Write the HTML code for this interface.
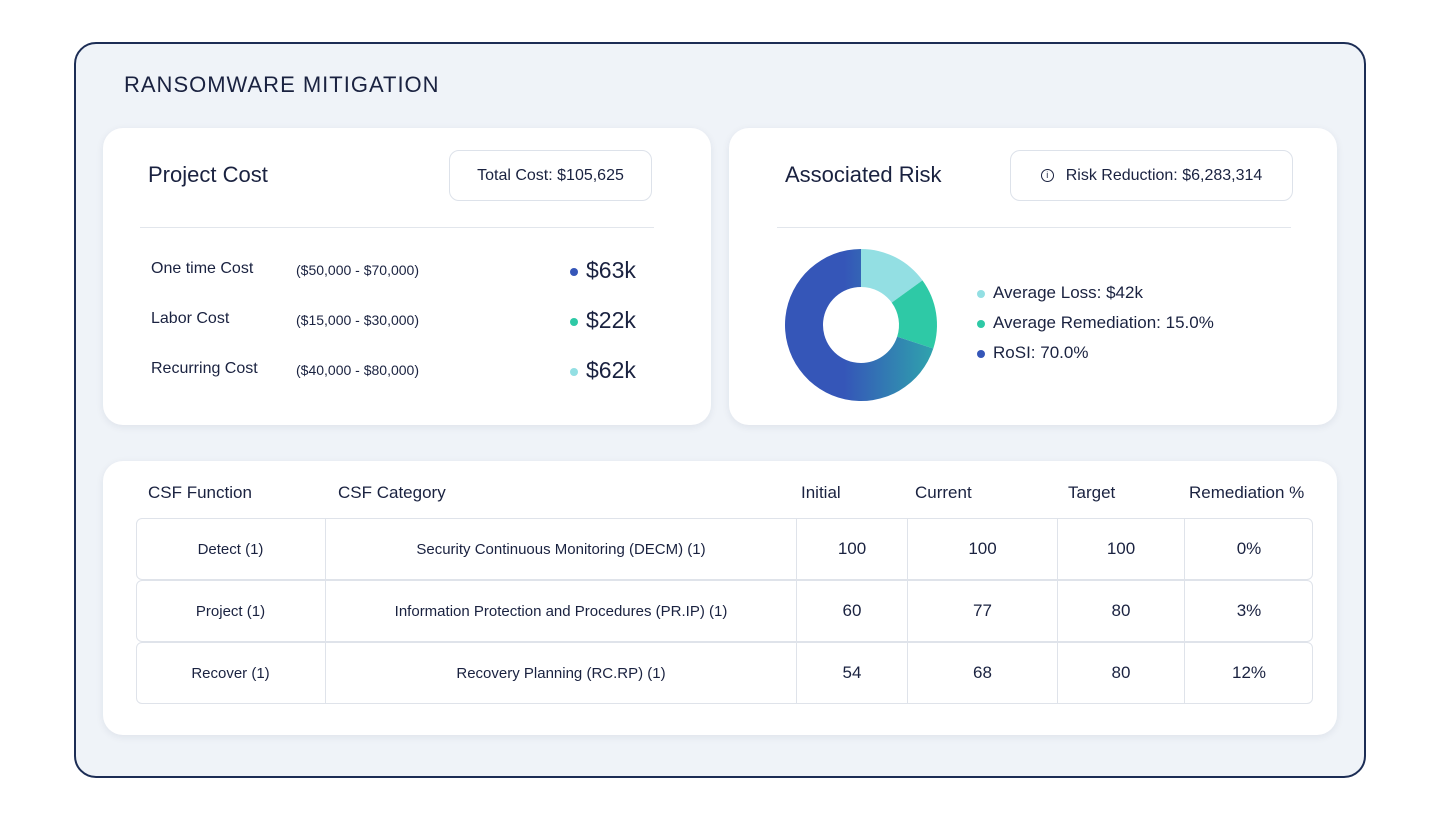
<!DOCTYPE html>
<html><head><meta charset="utf-8"><style>
*{box-sizing:border-box;margin:0;padding:0}
body{width:1440px;height:820px;background:#fff;font-family:"Liberation Sans",sans-serif;color:#1a2240;position:relative;overflow:hidden}
.abs{position:absolute}
.frame{left:74px;top:42px;width:1292px;height:736px;border:2px solid #1c2d55;border-radius:22px;background:#eff3f8}
.card{background:#fff;border-radius:20px;box-shadow:0 2px 8px rgba(30,40,80,.08)}
.pill{border:1px solid #dde2ea;border-radius:10px;background:#fff;font-size:16px;display:flex;align-items:center;justify-content:center}
.t{position:absolute;white-space:nowrap}
.dot{display:inline-block;width:8px;height:8px;border-radius:50%;margin-right:8px;vertical-align:middle}
.cell{position:absolute;display:flex;align-items:center;justify-content:center;font-size:15px;border-right:1px solid #dfe3ea}
.row{position:absolute;left:136px;width:1177px;height:62px;border:1px solid #dfe3ea;border-radius:6px;background:#fff}
</style></head><body>
<div class="abs frame"></div>
<div class="t" style="left:124px;top:72px;font-size:22px;letter-spacing:1px;font-weight:500">RANSOMWARE MITIGATION</div>

<div class="abs card" style="left:103px;top:128px;width:608px;height:297px"></div>
<div class="t" style="left:148px;top:162px;font-size:22px">Project Cost</div>
<div class="abs pill" style="left:449px;top:150px;width:203px;height:51px">Total Cost: $105,625</div>
<div class="abs" style="left:140px;top:227px;width:514px;height:1px;background:#e2e6ec"></div>
<div class="t" style="left:151px;top:260px;font-size:16px">One time Cost</div>
<div class="t" style="left:296px;top:262px;font-size:14px">($50,000 - $70,000)</div>
<div class="t" style="left:570px;top:257px;font-size:23px"><span class="dot" style="background:#3556b8"></span>$63k</div>
<div class="t" style="left:151px;top:310px;font-size:16px">Labor Cost</div>
<div class="t" style="left:296px;top:312px;font-size:14px">($15,000 - $30,000)</div>
<div class="t" style="left:570px;top:307px;font-size:23px"><span class="dot" style="background:#2ec9a6"></span>$22k</div>
<div class="t" style="left:151px;top:360px;font-size:16px">Recurring Cost</div>
<div class="t" style="left:296px;top:362px;font-size:14px">($40,000 - $80,000)</div>
<div class="t" style="left:570px;top:357px;font-size:23px"><span class="dot" style="background:#93dfe3"></span>$62k</div>

<div class="abs card" style="left:729px;top:128px;width:608px;height:297px"></div>
<div class="t" style="left:785px;top:162px;font-size:22px">Associated Risk</div>
<div class="abs pill" style="left:1010px;top:150px;width:283px;height:51px"><span style="display:inline-block;width:13px;height:13px;border:1.3px solid #1a2240;border-radius:50%;font-size:9px;line-height:11px;text-align:center;margin-right:12px">i</span>Risk Reduction: $6,283,314</div>
<div class="abs" style="left:777px;top:227px;width:514px;height:1px;background:#e2e6ec"></div>
<svg class="abs" style="left:0;top:0" width="1440" height="820" id="donut">
<defs><linearGradient id="g" x1="0" y1="0" x2="1" y2="0"><stop offset="0.4" stop-color="#3556b8"/><stop offset="1" stop-color="#2fa3ad"/></linearGradient></defs>
</svg>
<div class="t" style="left:977px;top:283px;font-size:17px"><span class="dot" style="background:#93dfe3"></span>Average Loss: $42k</div>
<div class="t" style="left:977px;top:313px;font-size:17px"><span class="dot" style="background:#2ec9a6"></span>Average Remediation: 15.0%</div>
<div class="t" style="left:977px;top:343px;font-size:17px"><span class="dot" style="background:#3556b8"></span>RoSI: 70.0%</div>

<div class="abs card" style="left:103px;top:461px;width:1234px;height:274px"></div>
<div class="t" style="left:148px;top:483px;font-size:17px">CSF Function</div>
<div class="t" style="left:338px;top:483px;font-size:17px">CSF Category</div>
<div class="t" style="left:801px;top:483px;font-size:17px">Initial</div>
<div class="t" style="left:915px;top:483px;font-size:17px">Current</div>
<div class="t" style="left:1068px;top:483px;font-size:17px">Target</div>
<div class="t" style="left:1189px;top:483px;font-size:17px">Remediation %</div>
<div id="rows"></div>
<script>
const sliceLabels=["Average Loss","Average Remediation","RoSI"];
const sliceValues=[15,15,70];
const sliceColors=["#93dfe3","#2ec9a6","url(#g)"];
const svg=document.getElementById('donut');
const cx=861,cy=325,R=76,r=38;
const total=sliceValues.reduce((a,b)=>a+b,0);
let a0=0;
function pt(rad,ang){return [cx+rad*Math.sin(ang),cy-rad*Math.cos(ang)];}
sliceValues.forEach((v,i)=>{
 const a1=a0+v/total*2*Math.PI;
 const large=(a1-a0)>Math.PI?1:0;
 const [x0,y0]=pt(R,a0),[x1,y1]=pt(R,a1),[x2,y2]=pt(r,a1),[x3,y3]=pt(r,a0);
 const p=document.createElementNS('http://www.w3.org/2000/svg','path');
 p.setAttribute('d',`M${x0},${y0}A${R},${R} 0 ${large} 1 ${x1},${y1}L${x2},${y2}A${r},${r} 0 ${large} 0 ${x3},${y3}Z`);
 p.setAttribute('fill',sliceColors[i]);
 
 
 svg.appendChild(p);
 a0=a1;
});
const funcs=["Detect (1)","Project (1)","Recover (1)"];
const cats=["Security Continuous Monitoring (DECM) (1)","Information Protection and Procedures (PR.IP) (1)","Recovery Planning (RC.RP) (1)"];
const initial=[100,60,54];
const current=[100,77,68];
const target=[100,80,80];
const remed=["0%","3%","12%"];
const cols=[[136,326],[326,797],[797,908],[908,1058],[1058,1185],[1185,1313]];
const host=document.getElementById('rows');
funcs.forEach((f,i)=>{
 const top=518+i*62;
 const row=document.createElement('div');
 row.className='row';row.style.top=top+'px';
 
 
 host.appendChild(row);
 const vals=[f,cats[i],initial[i],current[i],target[i],remed[i]];
 vals.forEach((v,j)=>{
  const c=document.createElement('div');
  c.className='cell';
  c.style.left=cols[j][0]+'px';c.style.width=(cols[j][1]-cols[j][0])+'px';
  c.style.top=top+'px';c.style.height='62px';
  if(j>=2){c.style.fontSize='17px';}
  if(j===5)c.style.borderRight='none';
  c.textContent=v;
  
  
  host.appendChild(c);
 });
});
</script>
</body></html>
